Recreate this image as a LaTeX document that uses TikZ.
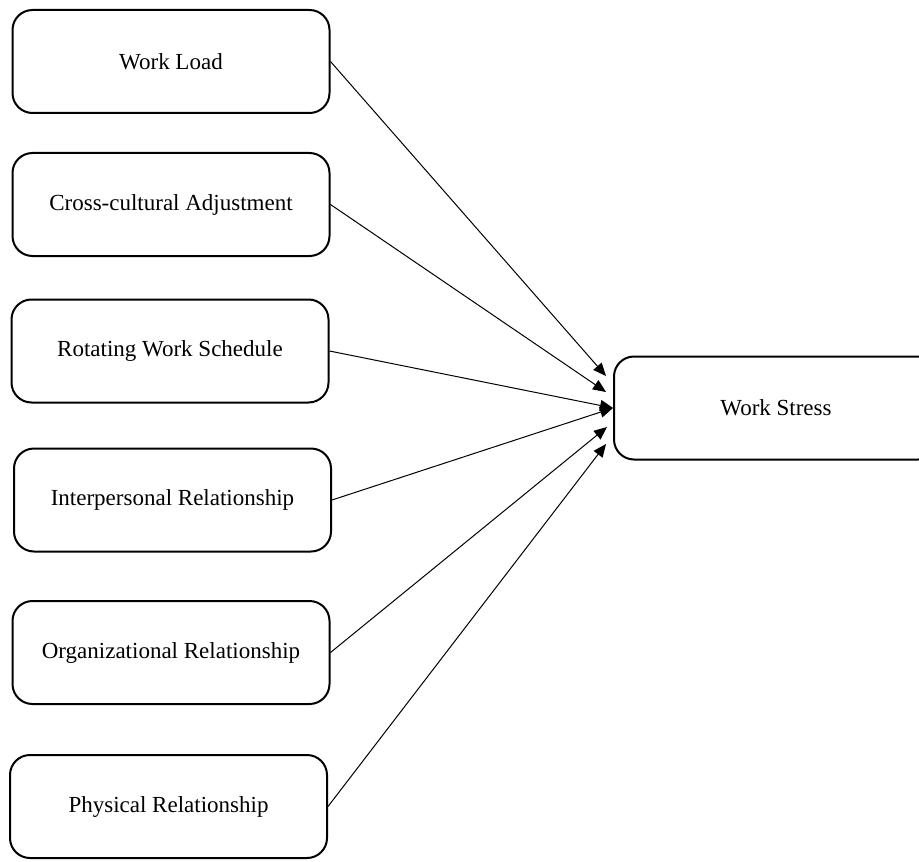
\documentclass[tikz,border=0pt]{standalone}
\usepackage{fontspec}
\setmainfont{Liberation Serif}
\usetikzlibrary{arrows.meta}
\tikzset{
  factor/.style={draw=black,line width=1pt,rounded corners=10pt,
                 minimum width=158.5pt,minimum height=51.5pt,
                 align=center,font=\fontsize{11.5}{14}\selectfont,inner sep=4pt},
  linkarr/.style={-{Triangle[length=6.5pt,width=5.5pt]},line width=0.5pt}
}

\begin{document}
\begin{tikzpicture}[x=0.5pt,y=-0.5pt]
  \useasboundingbox (0,0) rectangle (919,861);

  % stressors
  \node[factor] (load)   at (171,61.5)  {Work Load};
  \node[factor] (cross)  at (171,204.5) {Cross-cultural Adjustment};
  \node[factor] (rotate) at (170,351)   {Rotating Work Schedule};
  \node[factor] (inter)  at (172.5,500) {Interpersonal Relationship};
  \node[factor] (organ)  at (171,652.5) {Organizational Relationship};
  \node[factor] (phys)   at (168.5,806.5) {Physical Relationship};

  % outcome, runs off the right edge
  \node[factor,minimum width=162pt] (stress) at (776,408) {Work Stress};

  \coordinate (in1) at (606,376);
  \coordinate (in2) at (606,392);
  \coordinate (in5) at (607,427);
  \coordinate (in6) at (606,444);

  \draw[linkarr] (load.east)   -- (in1);
  \draw[linkarr] (cross.east)  -- (in2);
  \draw[linkarr] (rotate.east) -- (stress.west);
  \draw[linkarr] (inter.east)  -- (stress.west);
  \draw[linkarr] (organ.east)  -- (in5);
  \draw[linkarr] (phys.east)   -- (in6);
\end{tikzpicture}
\end{document}
